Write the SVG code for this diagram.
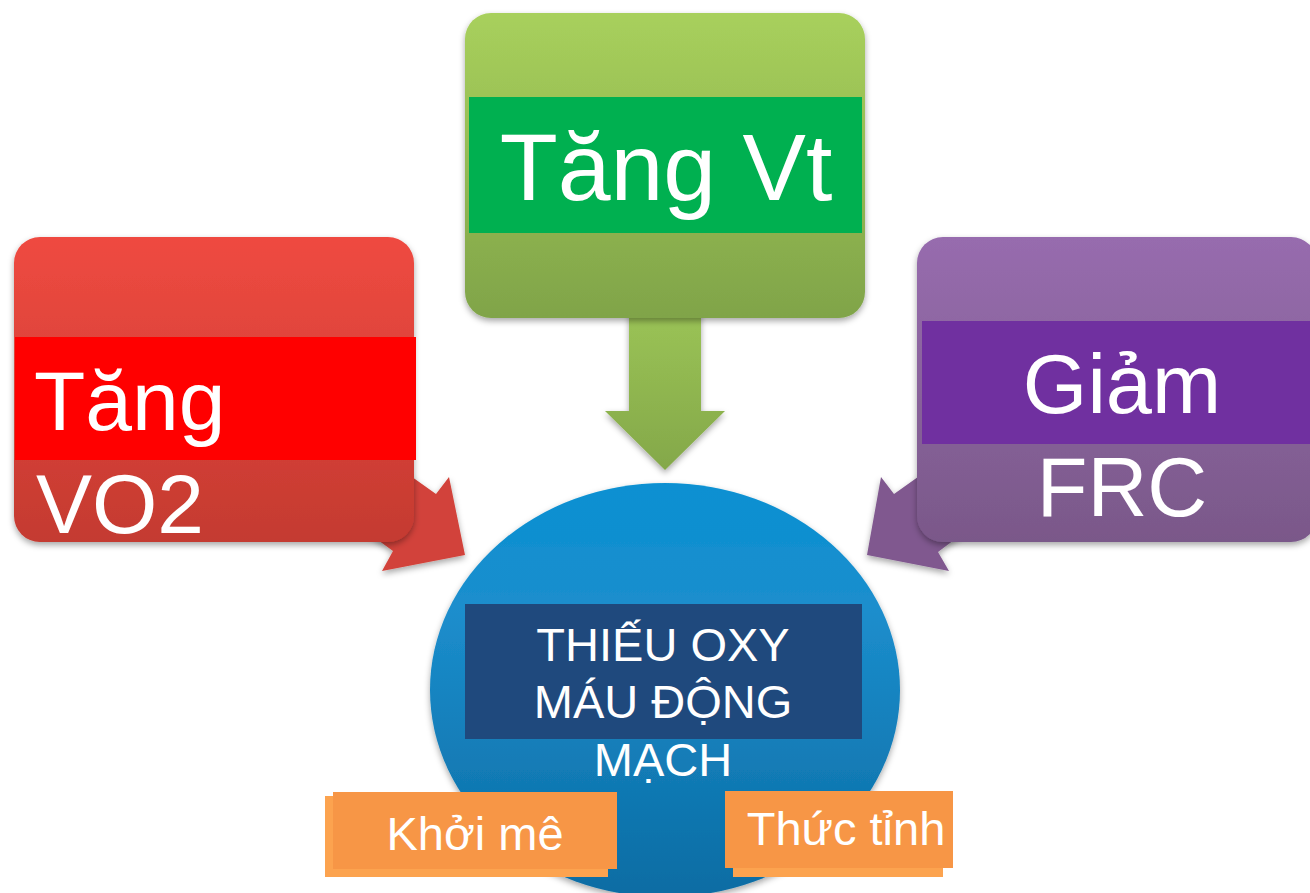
<svg xmlns="http://www.w3.org/2000/svg" width="1310" height="893" viewBox="0 0 1310 893">
<defs>
<linearGradient id="gRed" x1="0" y1="0" x2="0" y2="1"><stop offset="0" stop-color="#ef4a41"/><stop offset="1" stop-color="#c43a30"/></linearGradient>
<linearGradient id="gGreen" x1="0" y1="0" x2="0" y2="1"><stop offset="0" stop-color="#a8d05c"/><stop offset="1" stop-color="#80a449"/></linearGradient>
<linearGradient id="gPurple" x1="0" y1="0" x2="0" y2="1"><stop offset="0" stop-color="#976cae"/><stop offset="1" stop-color="#7a5889"/></linearGradient>
<linearGradient id="gBlue" x1="0" y1="0" x2="0" y2="1"><stop offset="0" stop-color="#0790d2"/><stop offset="0.3" stop-color="#1c8ecd"/><stop offset="1" stop-color="#0a6ca3"/></linearGradient>
<linearGradient id="gArrowG" x1="0" y1="0" x2="0" y2="1"><stop offset="0" stop-color="#9cc556"/><stop offset="1" stop-color="#84a84a"/></linearGradient>
<filter id="sh" x="-10%" y="-10%" width="120%" height="125%"><feDropShadow dx="0" dy="3" stdDeviation="3" flood-color="#000" flood-opacity="0.35"/></filter>
</defs>
<style>
.lbl{font-family:"Liberation Sans",Arial,sans-serif;fill:#fff}
.big{font-size:84px}
.mid{font-size:83px}
.vt{font-size:95px}
.ctr{font-size:47px}
.sm{font-size:47px}
</style>
<g id="connectors">
<polygon points="465,555 449,477 436,494 360,440 320,498 393,551 382,571" fill="#d2433a" filter="url(#sh)"/>
<polygon points="629,300 701,300 701,411 725,411 665,470 605,411 629,411" fill="url(#gArrowG)" filter="url(#sh)"/>
<polygon points="867,555 881,477 894,494 970,440 1010,498 938,552 949,571" fill="#80598f" filter="url(#sh)"/>
</g>
<g id="node-vo2">
<rect x="14" y="237" width="400" height="305" rx="26" fill="url(#gRed)" filter="url(#sh)"/>
<rect x="15" y="337" width="401" height="123" fill="#ff0000"/>
<text class="lbl big" x="34" y="430">Tăng</text>
<text class="lbl big" x="36" y="533">VO2</text>
</g>
<g id="node-vt">
<rect x="465" y="13" width="400" height="305" rx="26" fill="url(#gGreen)" filter="url(#sh)"/>
<rect x="469" y="97" width="393" height="136" fill="#00b050"/>
<text class="lbl vt" x="666" y="200" text-anchor="middle">Tăng Vt</text>
</g>
<g id="node-frc">
<rect x="917" y="237" width="400" height="305" rx="26" fill="url(#gPurple)" filter="url(#sh)"/>
<rect x="922" y="321" width="388" height="123" fill="#7030a0"/>
<text class="lbl mid" x="1122" y="413" text-anchor="middle">Giảm</text>
<text class="lbl mid" x="1122" y="516" text-anchor="middle">FRC</text>
</g>
<g id="node-hypoxemia">
<ellipse cx="665" cy="690" rx="235" ry="207" fill="url(#gBlue)" filter="url(#sh)"/>
<rect x="465" y="604" width="397" height="135" fill="#1f497d"/>
<text class="lbl ctr" x="663" y="661" text-anchor="middle">THIẾU OXY</text>
<text class="lbl ctr" x="663" y="718" text-anchor="middle">MÁU ĐỘNG</text>
<text class="lbl ctr" x="663" y="776" text-anchor="middle">MẠCH</text>
</g>
<g id="node-khoime">
<rect x="325" y="796" width="283" height="81" fill="#fca34f"/>
<rect x="333" y="792" width="284" height="77" fill="#f79646"/>
<text class="lbl sm" x="475" y="850" text-anchor="middle">Khởi mê</text>
</g>
<g id="node-thuctinh">
<rect x="733" y="800" width="210" height="77" fill="#fca34f"/>
<rect x="725" y="791" width="228" height="77" fill="#f79646"/>
<text class="lbl sm" x="846" y="845" text-anchor="middle">Thức tỉnh</text>
</g>
</svg>
